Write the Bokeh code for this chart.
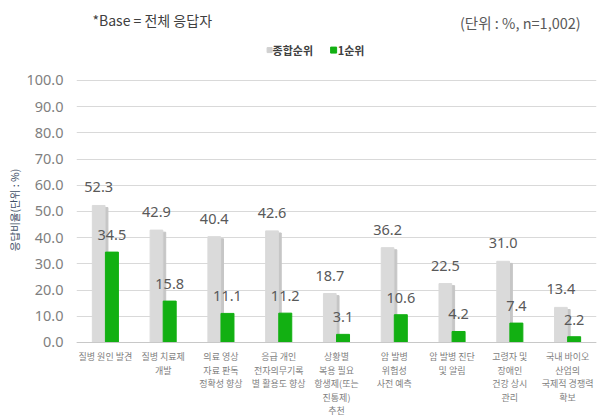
from bokeh.plotting import figure
from bokeh.models import Range1d, FixedTicker, NumeralTickFormatter, ColumnDataSource, Span, Title
from bokeh.core.properties import value
from bokeh.embed import file_html
from bokeh.resources import INLINE

categories = ["질병 원인 발견", "질병 치료제\n개발", "의료 영상\n자료 판독\n정확성 향상",
              "응급 개인\n전자의무기록\n별 활용도 향상", "상황별\n복용 필요\n항생제(또는\n진통제)\n추천",
              "암 발병\n위험성\n사전 예측", "암 발병 진단\n및 알림", "고령자 및\n장애인\n건강 상시\n관리",
              "국내 바이오\n산업의\n국제적 경쟁력\n확보"]
total_rank = [52.3, 42.9, 40.4, 42.6, 18.7, 36.2, 22.5, 31.0, 13.4]
first_rank = [34.5, 15.8, 11.1, 11.2, 3.1, 10.6, 4.2, 7.4, 2.2]
y_ticks = [0, 10, 20, 30, 40, 50, 60, 70, 80, 90, 100]
series_names = ["종합순위", "1순위"]

FONT = value("Noto Sans CJK KR")
NUMFONT = value("Noto Sans")
GRAY = "#dadada"
SHADOW = "#c6c6c6"
GREEN = "#12b012"

n = len(categories)
xc = [i + 0.5 for i in range(n)]

src = ColumnDataSource(dict(
    xg=[x - 0.116 for x in xc],
    xs=[x - 0.116 + 0.045 for x in xc],
    xgr=[x + 0.113 for x in xc],
    xc=xc,
    total=total_rank,
    total_s=[v - 0.8 for v in total_rank],
    first=first_rank,
    total_lbl=[f"{v:.1f}" for v in total_rank],
    first_lbl=[f"{v:.1f}" for v in first_rank],
    cat=categories,
    zero=[0] * n,
))

p = figure(width=605, height=419, output_backend="svg", toolbar_location=None,
           x_range=Range1d(0, n), y_range=Range1d(-29.39, 130.53),
           min_border_left=76, min_border_right=9, min_border_top=0, min_border_bottom=0)
p.outline_line_color = None
p.xaxis.visible = False
p.xgrid.visible = False
p.ygrid.ticker = FixedTicker(ticks=y_ticks)
p.ygrid.grid_line_color = "#d9d9d9"
p.yaxis.ticker = FixedTicker(ticks=y_ticks)
p.yaxis.formatter = NumeralTickFormatter(format="0.0")
p.yaxis.axis_line_color = None
p.yaxis.major_tick_line_color = None
p.yaxis.minor_tick_line_color = None
p.yaxis.major_tick_out = 0
p.yaxis.major_label_standoff = 13
p.yaxis.major_label_text_font = "Noto Sans"
p.yaxis.major_label_text_font_size = "14.5px"
p.yaxis.major_label_text_color = "#7f7f7f"

p.add_layout(Title(text="응답비율(단위 : %)", align="center", offset=19, standoff=4,
                   text_font="Noto Sans CJK KR", text_font_size="10.5px", text_font_style="normal",
                   text_color="#3f4f66"), "left")

p.add_layout(Span(location=0, dimension="width", line_color="#c8c8c8", line_width=1))

p.vbar(x="xs", top="total_s", width=0.23, source=src, color=SHADOW)
p.vbar(x="xg", top="total", width=0.22, source=src, color=GRAY)
p.vbar(x="xgr", top="first", width=0.225, source=src, color=GREEN)

p.text(x="xg", y="total", text="total_lbl", source=src, text_font=NUMFONT, text_font_size="14.5px",
       text_color="#595959", text_align="center", text_baseline="middle", y_offset=-18)
p.text(x="xgr", y="first", text="first_lbl", source=src, text_font=NUMFONT, text_font_size="14.5px",
       text_color="#595959", text_align="center", text_baseline="middle", y_offset=-17)

p.text(x="xc", y="zero", text="cat", source=src, text_font=FONT, text_font_size="9px",
       text_color="#808080", text_align="center", text_baseline="top", y_offset=8,
       text_line_height=1.03)

# header
p.text(x=[0.277], y=[122.9], text=["*Base = 전체 응답자"], text_font=FONT, text_font_size="14px",
       text_color="#404040", text_align="left", text_baseline="middle")
p.text(x=[8.727], y=[122.1], text=["(단위 : %, n=1,002)"], text_font=FONT, text_font_size="14.5px",
       text_color="#595959", text_align="right", text_baseline="middle")

# legend
p.scatter(x=[3.342], y=[111.6], marker="square", size=5, color="#d0d0d0")
p.text(x=[3.394], y=[111.6], text=[series_names[0]], text_font=FONT, text_font_size="11px",
       text_font_style="bold", text_color="#404040", text_align="left", text_baseline="middle")
p.scatter(x=[4.45], y=[111.6], marker="square", size=6, color=GREEN)
p.text(x=[4.52], y=[111.6], text=[series_names[1]], text_font=FONT, text_font_size="11px",
       text_font_style="bold", text_color="#404040", text_align="left", text_baseline="middle")

open("out.html", "w").write(file_html(p, INLINE))
